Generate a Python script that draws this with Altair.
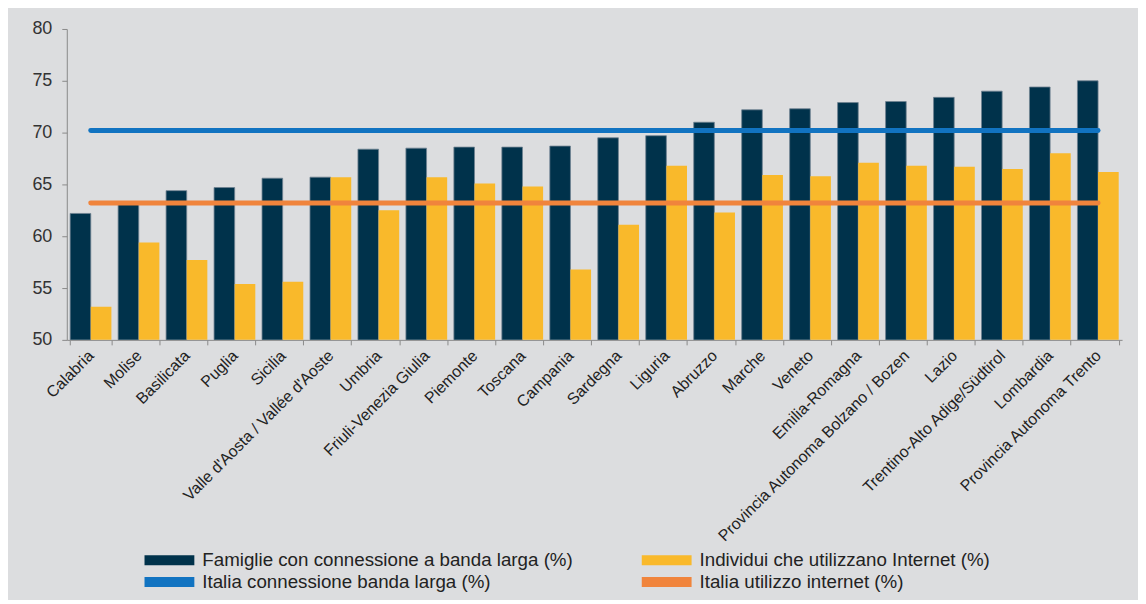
import altair as alt
import pandas as pd

regions = [
    "Calabria", "Molise", "Basilicata", "Puglia", "Sicilia",
    "Valle d'Aosta / Vallée d'Aoste", "Umbria", "Friuli-Venezia Giulia",
    "Piemonte", "Toscana", "Campania", "Sardegna", "Liguria", "Abruzzo",
    "Marche", "Veneto", "Emilia-Romagna", "Provincia Autonoma Bolzano / Bozen",
    "Lazio", "Trentino-Alto Adige/Südtirol", "Lombardia",
    "Provincia Autonoma Trento",
]
famiglie = [62.2, 63.3, 64.4, 64.7, 65.6, 65.7, 68.4, 68.5, 68.6, 68.6, 68.7,
            69.5, 69.7, 71.0, 72.2, 72.3, 72.9, 73.0, 73.4, 74.0, 74.4, 75.0]
individui = [53.2, 59.4, 57.7, 55.4, 55.6, 65.7, 62.5, 65.7, 65.1, 64.8, 56.8,
             61.1, 66.8, 62.3, 65.9, 65.8, 67.1, 66.8, 66.7, 66.5, 68.0, 66.2]
italia_banda = 70.2
italia_internet = 63.2

s_fam = "Famiglie con connessione a banda larga (%)"
s_ind = "Individui che utilizzano Internet (%)"
s_ib = "Italia connessione banda larga (%)"
s_ii = "Italia utilizzo internet (%)"
series_order = [s_fam, s_ind, s_ib, s_ii]
colors = ["#00324B", "#F9B92B", "#1173C1", "#F0843C"]

bars = pd.DataFrame(
    [{"regione": r, "serie": s_fam, "valore": v} for r, v in zip(regions, famiglie)]
    + [{"regione": r, "serie": s_ind, "valore": v} for r, v in zip(regions, individui)]
)
lines = pd.DataFrame(
    [{"regione": r, "serie": s_ib, "valore": italia_banda} for r in regions]
    + [{"regione": r, "serie": s_ii, "valore": italia_internet} for r in regions]
)

color = alt.Color(
    "serie:N",
    scale=alt.Scale(domain=series_order, range=colors),
    sort=series_order,
    legend=alt.Legend(
        title=None, orient="none", legendX=93, legendY=523, columns=2,
        direction="horizontal", columnPadding=69, rowPadding=2,
        symbolType="M-2.5,-0.5H2.5V0.5H-2.5Z", symbolSize=400,
        symbolStrokeWidth=0, labelOffset=23, labelFontSize=18.8,
        labelFont="Liberation Sans", labelColor="#222222", labelLimit=600,
    ),
)

x = alt.X(
    "regione:N", sort=regions, title=None,
    scale=alt.Scale(paddingInner=0.14, paddingOuter=0.07),
    axis=alt.Axis(labelAngle=-45, labelAlign="right", labelBaseline="middle",
                  labelFontSize=16, labelFont="Liberation Sans", labelColor="#222222",
                  labelLimit=400,
                  tickBand="extent", domainColor="#8a8a8a", tickColor="#8a8a8a",
                  tickSize=5, labelPadding=8),
)
y = alt.Y(
    "valore:Q", title=None,
    scale=alt.Scale(domain=[50, 80], zero=False, nice=False),
    axis=alt.Axis(values=[50, 55, 60, 65, 70, 75, 80], grid=False,
                  labelFontSize=18, labelFont="Liberation Sans", labelColor="#333333",
                  domainColor="#8a8a8a", tickColor="#8a8a8a", tickSize=5, labelPadding=10),
)

bar_layer = alt.Chart(bars).mark_bar(clip=True).encode(
    x=x, y=y, color=color,
    xOffset=alt.XOffset("serie:N", sort=[s_fam, s_ind],
                        scale=alt.Scale(domain=[s_fam, s_ind], paddingInner=0, paddingOuter=0)),
    stroke=alt.condition(alt.datum.serie == s_fam, alt.value("#6f8290"), alt.value(None)),
    strokeWidth=alt.value(0.8),
)
line_layer = alt.Chart(lines).mark_line(strokeWidth=5, strokeCap="round").encode(
    x=x, y=y, color=color, detail="serie:N",
)

chart = alt.layer(bar_layer, line_layer).properties(
    width=1059, height=312,
    background="#DCDDDF",
    padding={"left": 59, "top": 20, "right": 16, "bottom": 260},
    autosize=alt.AutoSizeParams(type="none"),
).configure_view(stroke=None)

chart.save("out.html", embed_options={"renderer": "svg", "actions": False})
